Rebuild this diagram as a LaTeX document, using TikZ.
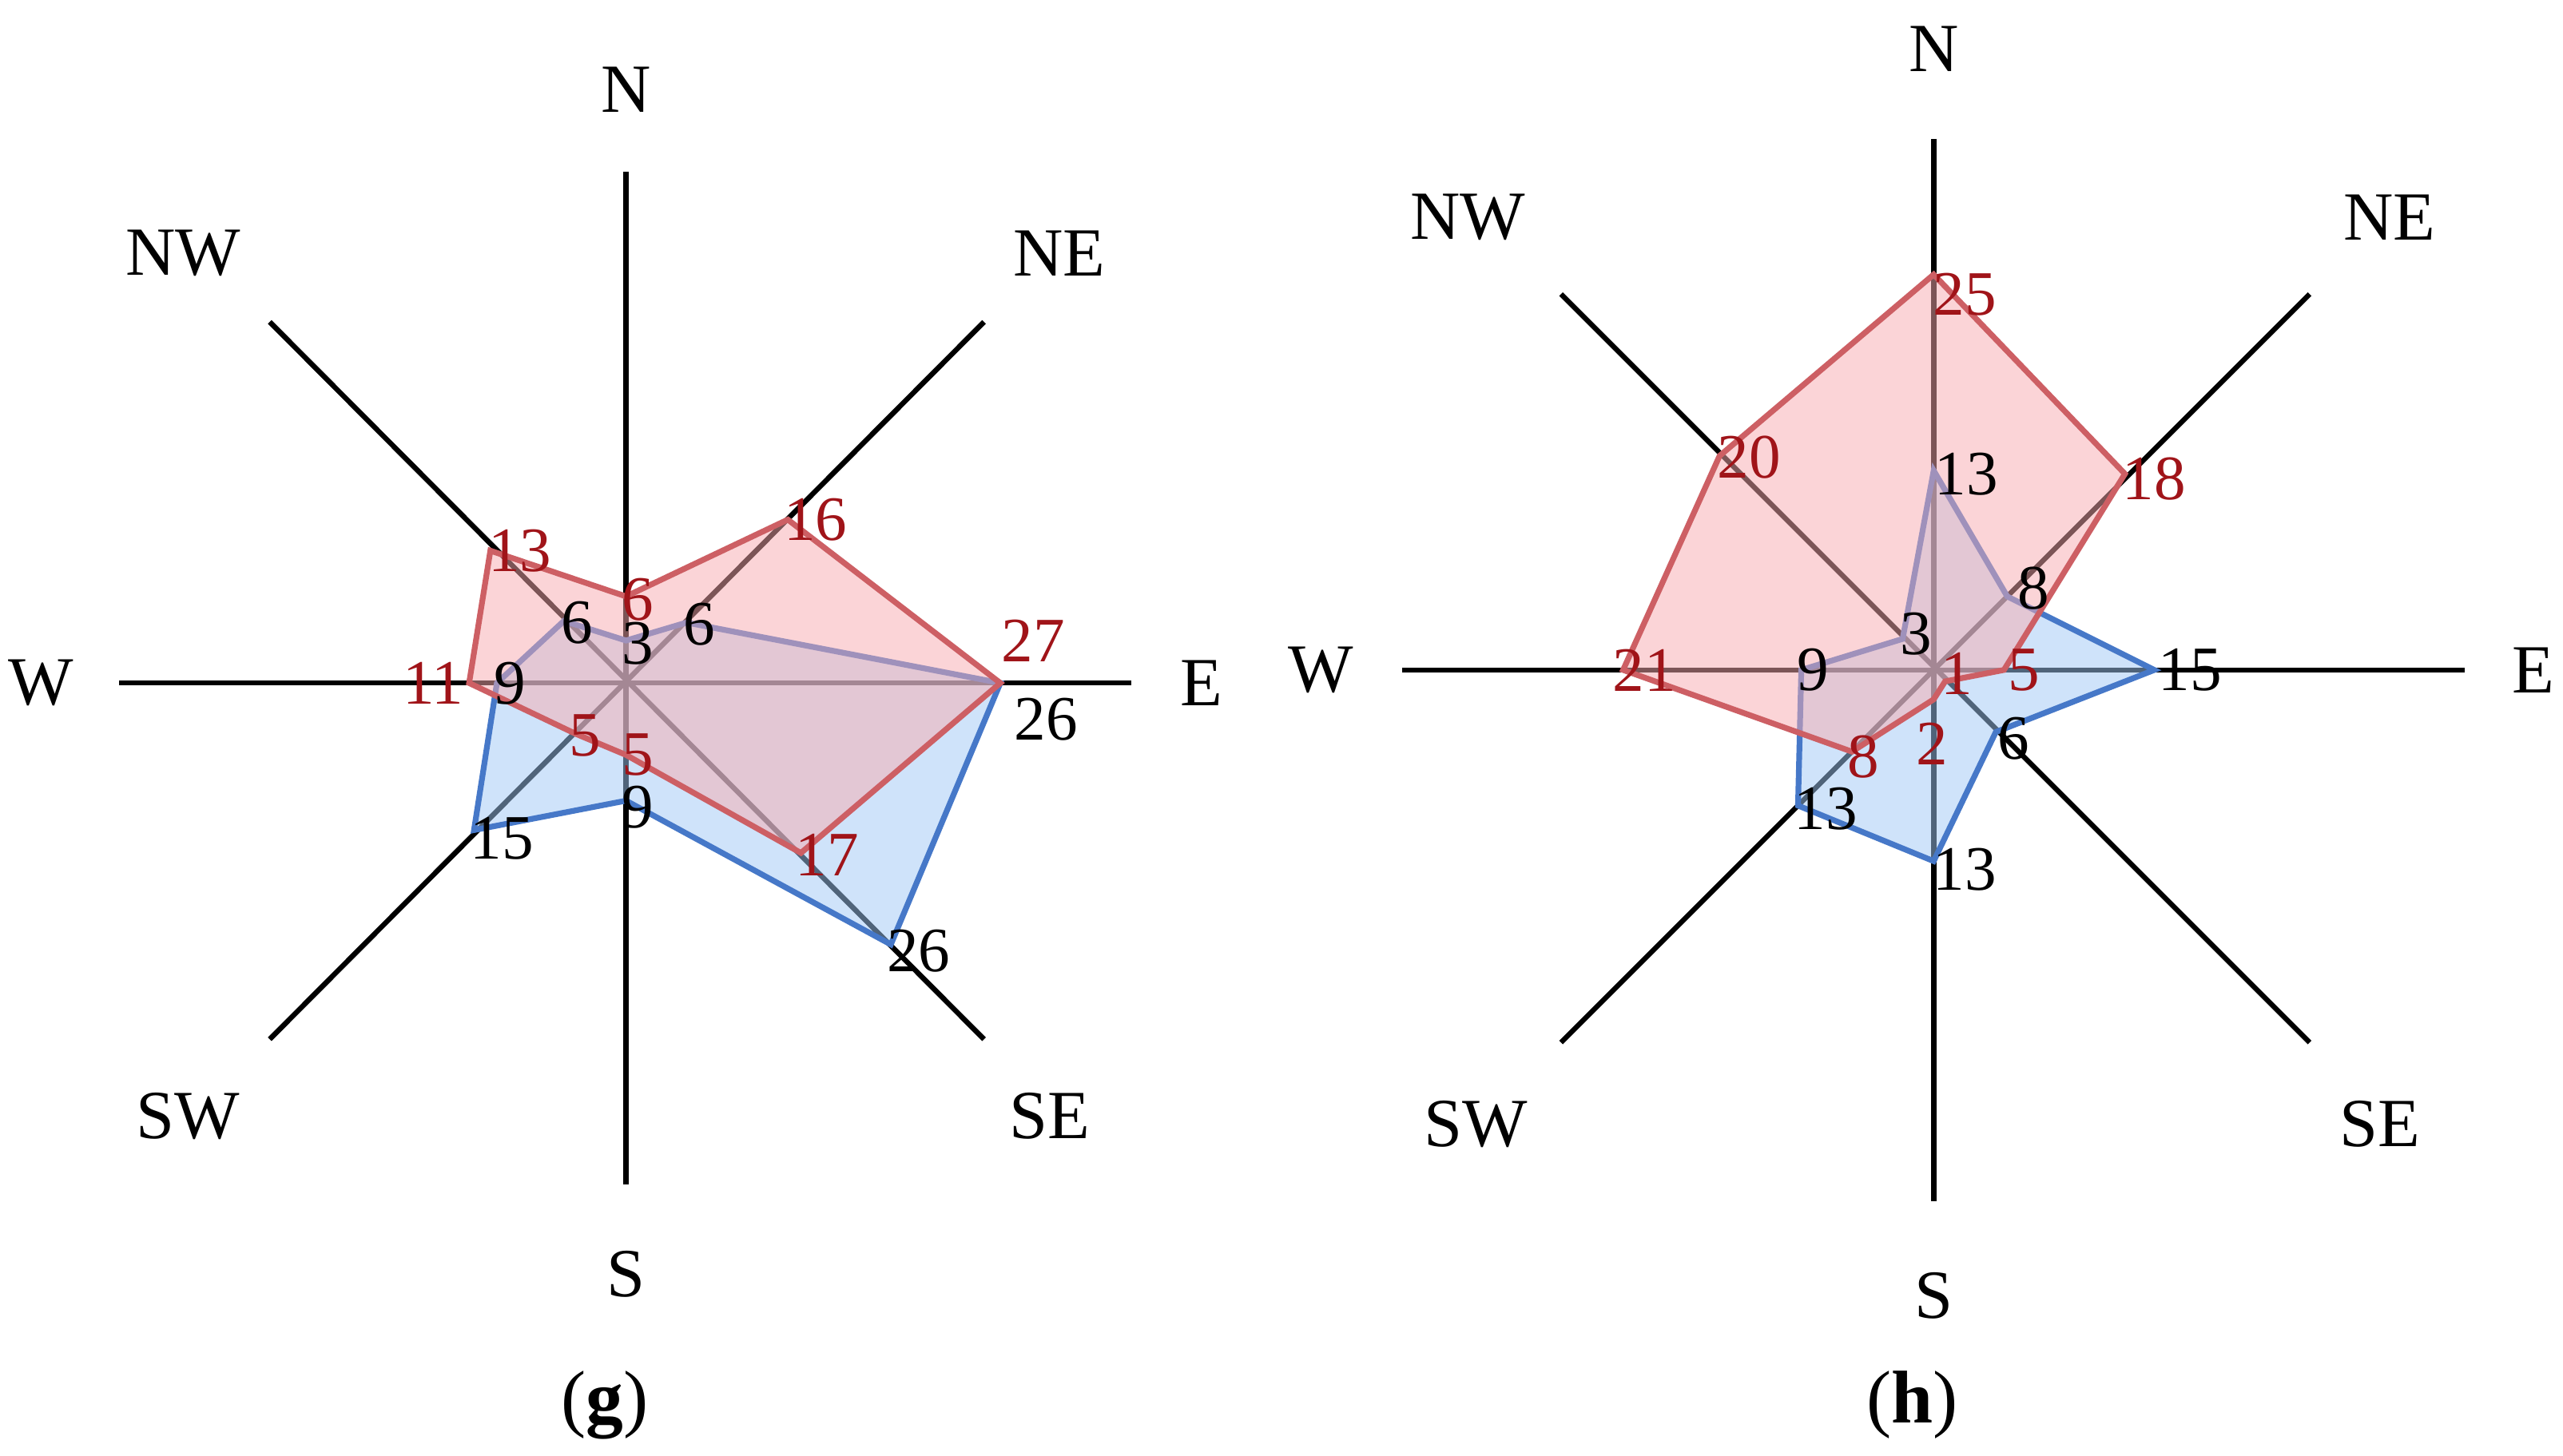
\documentclass[tikz,border=0pt]{standalone}
\usepackage{fontspec}
\setmainfont{Liberation Serif}
\begin{document}
\begin{tikzpicture}[x=0.01cm,y=-0.01cm,
 ax/.style={draw=black,line width=0.9pt},
 dir/.style={font=\fontsize{12}{13}\selectfont,inner sep=0pt},
 rv/.style={draw={rgb,255:red,205;green,95;blue,100},fill={rgb,255:red,248;green,170;blue,175},fill opacity=0.5,line width=1pt},
 bv/.style={draw={rgb,255:red,70;green,120;blue,200},fill={rgb,255:red,160;green,200;blue,245},fill opacity=0.5,line width=1pt},
 rl/.style={font=\fontsize{11}{12}\selectfont,text={rgb,255:red,160;green,20;blue,25},inner sep=0pt},
 bl/.style={font=\fontsize{11}{12}\selectfont,text=black,inner sep=0pt},
 subcap/.style={font=\fontsize{13}{14}\selectfont,inner sep=0pt}]
\useasboundingbox (0,0) rectangle (1568,891);
% ---- chart g
\coordinate (gN) at (383,105); \coordinate (gS) at (383,725);
\coordinate (gW) at (73,418); \coordinate (gE) at (692,418);
\coordinate (gNW) at (165,197); \coordinate (gSE) at (602,636);
\coordinate (gNE) at (602,197); \coordinate (gSW) at (165,636);
\draw[ax] (gN)--(gS); \draw[ax] (gW)--(gE); \draw[ax] (gNW)--(gSE); \draw[ax] (gNE)--(gSW);
\draw[bv] (383,392)--(420,381)--(612,418)--(545,578)--(383,490)--(290,508)--(304,418)--(345,380)--cycle;
\draw[rv] (383,365)--(482,318)--(612,418)--(490,522)--(383,462)--(352,449)--(287,418)--(300,337)--cycle;
\node[dir] (gln) at (383,55) {N}; \node[dir] (gls) at (383,780) {S};
\node[dir] (glw) at (25,418) {W}; \node[dir] (gle) at (735,418) {E};
\node[dir] (glnw) at (112,155) {NW}; \node[dir] (glne) at (648,155) {NE};
\node[dir] (glsw) at (115,683) {SW}; \node[dir] (glse) at (642,683) {SE};
\node[rl] (gr1) at (390,367) {6}; \node[rl] (gr2) at (499,318) {16};
\node[rl] (gr3) at (632,392) {27}; \node[rl] (gr4) at (506,523) {17};
\node[rl] (gr5) at (390,462) {5}; \node[rl] (gr6) at (358,450) {5};
\node[rl] (gr7) at (265,418) {11}; \node[rl] (gr8) at (318,337) {13};
\node[bl] (gb1) at (390,394) {3}; \node[bl] (gb2) at (428,382) {6};
\node[bl] (gb3) at (640,440) {26}; \node[bl] (gb4) at (562,582) {26};
\node[bl] (gb5) at (390,494) {9}; \node[bl] (gb6) at (307,513) {15};
\node[bl] (gb7) at (312,418) {9}; \node[bl] (gb8) at (353,381) {6};
\node[subcap] (capg) at (370,860) {(\textbf{g})};
% ---- chart h
\coordinate (hN) at (1183,85); \coordinate (hS) at (1183,735);
\coordinate (hW) at (858,410); \coordinate (hE) at (1508,410);
\coordinate (hNW) at (955,180); \coordinate (hSE) at (1413,638);
\coordinate (hNE) at (1413,180); \coordinate (hSW) at (955,638);
\draw[ax] (hN)--(hS); \draw[ax] (hW)--(hE); \draw[ax] (hNW)--(hSE); \draw[ax] (hNE)--(hSW);
\draw[bv] (1183,288)--(1228,365)--(1318,410)--(1221,448)--(1183,527)--(1100,493)--(1102,410)--(1164,391)--cycle;
\draw[rv] (1183,168)--(1300,290)--(1226,410)--(1190,417)--(1183,428)--(1133,460)--(993,410)--(1052,279)--cycle;
\node[dir] (hln) at (1183,30) {N}; \node[dir] (hls) at (1183,793) {S};
\node[dir] (hlw) at (808,410) {W}; \node[dir] (hle) at (1550,410) {E};
\node[dir] (hlnw) at (898,133) {NW}; \node[dir] (hlne) at (1462,133) {NE};
\node[dir] (hlsw) at (903,688) {SW}; \node[dir] (hlse) at (1456,688) {SE};
\node[rl] (hr1) at (1202,180) {25}; \node[rl] (hr2) at (1318,293) {18};
\node[rl] (hr3) at (1238,410) {5}; \node[rl] (hr4) at (1197,412) {1};
\node[rl] (hr5) at (1182,455) {2}; \node[rl] (hr6) at (1140,463) {8};
\node[rl] (hr7) at (1006,410) {21}; \node[rl] (hr8) at (1070,280) {20};
\node[bl] (hb1) at (1203,290) {13}; \node[bl] (hb2) at (1244,360) {8};
\node[bl] (hb3) at (1340,410) {15}; \node[bl] (hb4) at (1232,452) {6};
\node[bl] (hb5) at (1202,532) {13}; \node[bl] (hb6) at (1117,495) {13};
\node[bl] (hb7) at (1109,410) {9}; \node[bl] (hb8) at (1172,388) {3};
\node[subcap] (caph) at (1170,860) {(\textbf{h})};
\end{tikzpicture}
\end{document}
